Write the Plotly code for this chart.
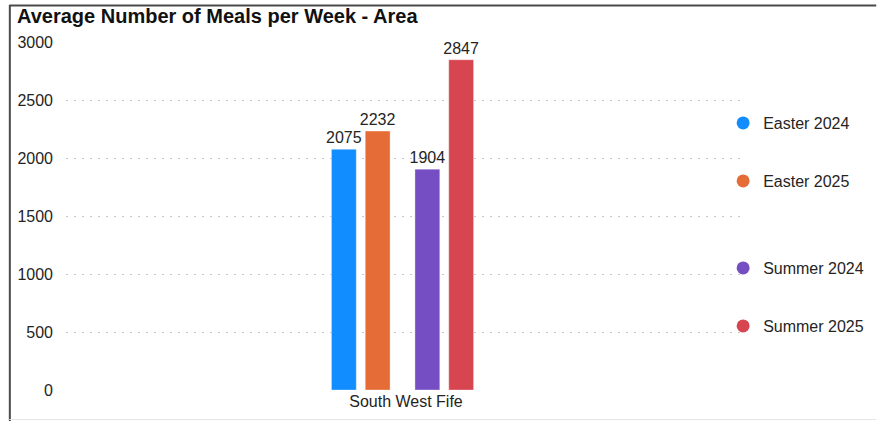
import plotly.graph_objects as go

categories = ["South West Fife"]
series_names = ["Easter 2024", "Easter 2025", "Summer 2024", "Summer 2025"]
series_values = [[2075], [2232], [1904], [2847]]
colors = ["#118DFF", "#E66C37", "#744EC2", "#D64550"]
y_ticks = [0, 500, 1000, 1500, 2000, 2500, 3000]

W, H = 881, 421
L, R, T, B = 66, 131, 42, 31
pw = W - L - R
ph = H - T - B

def px_x(p):
    return (p - L) / pw

def px_y(p):
    return (H - B - p) / ph

bar_width = 25 / pw
offsets = [(333 - 408) / pw, (367 - 408) / pw, (417 - 408) / pw, (451 - 408) / pw]
legend_y = [123, 181, 268, 326]

font = "Liberation Sans, Arial, sans-serif"
txt = "#252423"

fig = go.Figure()
for i, name in enumerate(series_names):
    fig.add_trace(go.Bar(
        x=categories, y=series_values[i], name=name,
        marker=dict(color=colors[i], line=dict(width=1, color="rgba(255,255,255,0.35)")),
        width=bar_width, offset=offsets[i],
        text=series_values[i], texttemplate="%{y}", textposition="outside",
        constraintext="none",
        textfont=dict(size=16, color=txt, family=font),
        cliponaxis=False, showlegend=False, hoverinfo="x+y+name",
    ))

legend_keys = ["legend", "legend2", "legend3", "legend4"]
for i, name in enumerate(series_names):
    fig.add_trace(go.Scatter(
        x=[None], y=[None], mode="markers", name=name,
        marker=dict(color=colors[i], size=13, symbol="circle"),
        legend=legend_keys[i], showlegend=True,
    ))

legend_common = dict(
    x=px_x(727), xanchor="left", yanchor="middle",
    bgcolor="rgba(0,0,0,0)", borderwidth=0,
    font=dict(size=16, color=txt, family=font),
    itemwidth=30,
)
layout_legends = {}
for i, key in enumerate(legend_keys):
    layout_legends[key] = dict(legend_common, y=px_y(legend_y[i]))

fig.update_layout(
    width=W, height=H,
    margin=dict(l=L, r=R, t=T, b=B, pad=0),
    paper_bgcolor="white", plot_bgcolor="white",
    barmode="overlay",
    font=dict(family=font, size=16, color=txt),
    title=dict(
        text="<b>Average Number of Meals per Week - Area</b>",
        x=17 / W, xanchor="left", xref="container",
        y=1 - 16 / H, yanchor="middle", yref="container",
        font=dict(size=20, color="#111111", family=font),
    ),
    xaxis=dict(
        type="category", range=[-0.5, 0.5],
        showgrid=False, showline=False, zeroline=False, ticks="",
        tickfont=dict(size=16, color=txt, family=font),
        fixedrange=True,
    ),
    yaxis=dict(
        range=[0, 3000], tickvals=y_ticks, ticktext=[str(v) for v in y_ticks],
        showgrid=True, gridcolor="#C8C8C8", griddash="2px,6px", gridwidth=1,
        zeroline=False, showline=False, ticks="",
        ticklabelstandoff=12,
        tickfont=dict(size=16, color=txt, family=font),
        fixedrange=True,
    ),
    shapes=[
        dict(type="line", xref="paper", yref="paper",
             x0=px_x(9.5), x1=px_x(9.5), y0=px_y(5), y1=px_y(421),
             line=dict(color="#4A4A4A", width=2)),
        dict(type="line", xref="paper", yref="paper",
             x0=px_x(9), x1=px_x(881), y0=px_y(5.5), y1=px_y(5.5),
             line=dict(color="#4A4A4A", width=2)),
        dict(type="line", xref="paper", yref="paper",
             x0=px_x(9), x1=px_x(881), y0=px_y(419.5), y1=px_y(419.5),
             line=dict(color="#E6E6E6", width=1)),
    ],
    **layout_legends,
)

fig.write_html("out.html", config={"displayModeBar": False},
               post_script="document.body.style.margin='0';document.body.style.overflow='hidden';")
